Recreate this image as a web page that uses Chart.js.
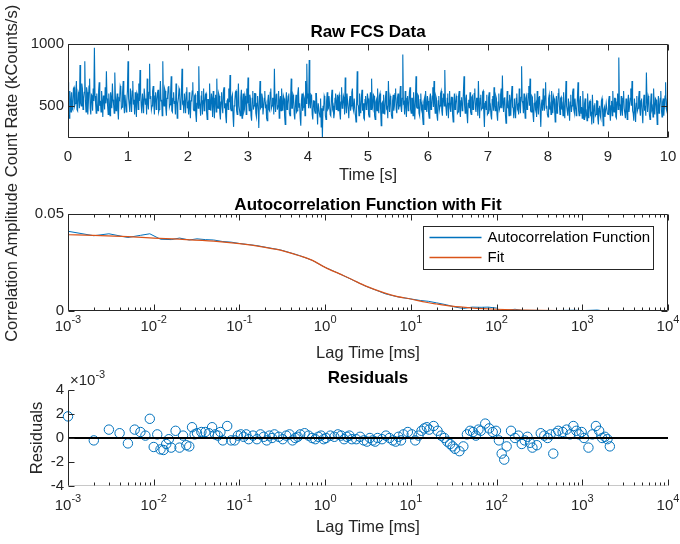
<!DOCTYPE html>
<html>
<head>
<meta charset="utf-8">
<script src="https://cdn.jsdelivr.net/npm/chart.js@4.4.0/dist/chart.umd.min.js"></script>
<style>
  body { margin: 0; background: #fff; }
  #wrap { position: relative; width: 680px; height: 544px; background: #fff; }
  canvas { position: absolute; left: 0; top: 0; }
</style>
</head>
<body>
<div id="wrap">
  <canvas id="rawChart" width="680" height="544"></canvas>
  <canvas id="acfChart" width="680" height="544"></canvas>
  <canvas id="residChart" width="680" height="544"></canvas>
</div>
<script>
// ---- data ----
// raw trace, one value every 10 ms (kCounts/s)
const rawDt = 0.01;
const rawCounts = [
  690,430, 400,620, 560,450, 610,480, 470,640, 650,500, 520,600, 700,470, 460,610, 590,480, 830,520, 500,680, 640,470, 560,610, 860,540, 450,650, 610,430, 530,660, 720,480, 430,590, 580,460, 640,540, 970,580, 520,440, 600,500,
  460,620, 690,500, 540,450, 620,540, 410,580, 580,470, 650,520, 780,560, 500,430, 600,520, 420,610, 560,480, 680,550, 510,440, 770,580, 460,540, 600,470, 390,560, 550,660, 640,480, 490,610, 700,530, 440,590, 590,450, 540,620,
  860,560, 510,450, 640,540, 450,620, 700,510, 550,430, 610,520, 410,600, 580,470, 680,540, 790,600, 500,440, 600,530, 440,640, 640,510, 560,430, 720,520, 470,610, 840,560, 580,470, 500,620, 660,520, 430,580, 610,470, 540,600,
  630,450, 470,570, 700,540, 550,420, 860,560, 500,640, 620,480, 420,560, 580,650, 660,490, 510,600, 740,460, 450,560, 610,520, 540,430, 680,560, 400,520, 560,640, 620,470, 480,600, 800,520, 530,440, 600,530, 440,610, 650,480,
  510,430, 610,480, 400,540, 560,620, 690,470, 460,580, 590,430, 370,520, 620,480, 820,540, 500,420, 580,620, 430,540, 640,460, 520,590, 600,450, 390,550, 550,470, 680,510, 460,600, 560,410, 620,520, 400,560, 590,450, 720,500,
  480,600, 580,440, 390,530, 610,490, 440,620, 650,480, 520,410, 360,540, 560,470, 640,530, 750,480, 460,570, 590,420, 330,500, 540,610, 620,460, 430,540, 680,500, 500,420, 570,630, 400,520, 600,450, 470,580, 550,430, 640,520,
  730,520, 460,590, 560,420, 380,560, 620,470, 500,600, 600,440, 410,520, 580,470, 320,550, 700,480, 490,600, 570,430, 430,560, 620,480, 510,400, 380,540, 590,470, 460,610, 640,480, 500,560, 560,430, 800,520, 450,590, 600,470,
  500,620, 400,540, 580,460, 640,520, 460,580, 560,420, 350,530, 610,470, 510,580, 600,440, 420,560, 720,480, 480,590, 570,430, 390,520, 590,450, 460,600, 650,490, 520,400, 340,540, 600,460, 490,580, 560,420, 700,520, 840,560,
  600,480, 870,520, 480,590, 580,430, 390,540, 540,460, 440,600, 600,470, 350,520, 520,440, 410,560, 330,480, 242,500, 460,580, 560,420, 390,540, 610,470, 480,580, 580,430, 420,560, 630,480, 500,400, 440,560, 600,470, 520,590,
  460,570, 590,440, 390,530, 650,480, 490,580, 560,430, 730,510, 440,600, 600,470, 400,540, 580,460, 500,610, 640,480, 460,560, 560,430, 370,520, 780,510, 500,420, 600,480, 440,570, 630,460, 520,400, 390,550, 580,470, 480,600,
  560,430, 410,540, 610,470, 720,500, 480,590, 580,420, 390,530, 550,460, 640,490, 440,580, 600,470, 340,520, 530,440, 590,470, 430,560, 620,480, 490,400, 700,520, 450,580, 560,430, 400,540, 590,460, 500,600, 640,470, 440,560,
  600,470, 500,580, 660,490, 450,560, 915,520, 530,430, 620,500, 410,560, 580,460, 490,610, 650,470, 440,560, 560,420, 610,500, 390,540, 740,490, 480,590, 580,440, 420,550, 600,480, 510,410, 350,530, 560,470, 620,500, 450,580,
  540,440, 400,560, 600,470, 490,580, 650,490, 700,520, 440,580, 560,420, 380,540, 580,470, 500,600, 620,460, 420,560, 600,500, 790,540, 480,420, 560,600, 400,520, 620,480, 450,570, 570,430, 370,510, 600,470, 510,580, 560,440,
  450,580, 620,470, 410,540, 570,460, 490,610, 740,500, 440,560, 590,430, 360,520, 550,480, 610,450, 430,570, 580,470, 500,600, 640,480, 450,560, 560,420, 700,510, 400,560, 590,470, 480,610, 620,450, 330,520, 540,470, 590,430,
  440,570, 610,480, 500,420, 390,550, 580,460, 650,500, 460,580, 560,430, 380,530, 600,470, 490,590, 640,480, 745,520, 450,560, 570,430, 360,510, 620,480, 510,420, 590,540, 420,580, 660,490, 480,400, 560,470, 400,560, 600,480,
  500,430, 640,510, 440,570, 820,540, 520,440, 600,480, 400,560, 580,470, 480,600, 660,500, 720,460, 450,580, 570,430, 370,520, 600,480, 510,410, 620,500, 430,570, 580,450, 330,510, 550,460, 640,520, 460,580, 690,480, 500,430,
  410,560, 590,470, 500,430, 620,520, 440,580, 560,470, 370,510, 580,440, 480,600, 640,500, 430,560, 570,470, 500,420, 610,480, 400,540, 700,500, 460,420, 560,480, 380,530, 590,450, 500,610, 640,470, 440,560, 560,420, 480,560,
  690,460, 420,540, 580,440, 490,400, 620,480, 390,520, 560,430, 450,380, 600,470, 400,530, 540,430, 440,350, 590,460, 360,500, 520,420, 430,540, 540,400, 350,480, 500,420, 400,540, 560,450, 340,470, 490,410, 410,520, 520,440,
  430,540, 580,450, 380,500, 540,420, 620,490, 450,560, 560,410, 400,530, 600,470, 890,520, 500,420, 580,470, 420,560, 620,480, 480,400, 560,470, 390,530, 590,450, 450,560, 640,500, 700,460, 440,380, 560,470, 370,520, 580,460,
  480,560, 620,470, 420,540, 560,440, 360,520, 590,460, 500,420, 770,540, 450,580, 560,430, 390,520, 600,470, 490,410, 640,500, 430,560, 550,460, 350,500, 580,440, 480,560, 620,470, 410,530, 560,420, 490,580, 690,480, 460,560
];
const rawXTicks = [0, 1, 2, 3, 4, 5, 6, 7, 8, 9, 10];
const rawYTicks = [500, 1000];

// autocorrelation curve (lag in ms)
const acfLag = [0.001, 0.002, 0.003, 0.005, 0.007, 0.009, 0.012, 0.016, 0.02, 0.026, 0.032, 0.04, 0.05, 0.064,
  0.08, 0.1, 0.13, 0.16, 0.2, 0.3, 0.4, 0.5, 0.7, 1, 1.5, 2, 3, 4, 5, 7, 10, 13, 16, 20, 26, 33, 41, 52, 66,
  80, 100, 115, 130, 164, 200, 300, 400, 600, 800, 1000, 1500, 2000];
const acfValue = [0.0411, 0.0388, 0.0398, 0.0379, 0.0390, 0.0398, 0.0370, 0.0368, 0.0376, 0.0366, 0.0372, 0.0368, 0.0366, 0.0358,
  0.0355, 0.0348, 0.0342, 0.0337, 0.0329, 0.0315, 0.0299, 0.0286, 0.0262, 0.0225, 0.0190, 0.0164, 0.0127, 0.0106, 0.0089, 0.0073, 0.0062, 0.0054, 0.0050, 0.0042, 0.0032, 0.0020, 0.0013, 0.0020, 0.0019,
  0.0020, 0.0015, -0.0004, 0.0003, 0.0009, 0.0003, 0.0003, 0.0001, 0.0003, 0.0004, 0.0002, 0.0005, -0.0003];
// fitted curve
const fitLag = [0.001, 0.002, 0.005, 0.01, 0.02, 0.05, 0.1, 0.2, 0.3, 0.5, 0.7, 1, 1.5, 2, 3, 5, 7, 10,
  15, 20, 30, 50, 70, 100, 200, 500, 1000, 2000];
const fitValue = [0.0393, 0.0390, 0.0383, 0.0376, 0.0370, 0.0360, 0.0347, 0.0328, 0.0314, 0.0285, 0.0262, 0.0225, 0.0190, 0.0165, 0.0128, 0.0092, 0.0074, 0.0062,
  0.0045, 0.0036, 0.0025, 0.0016, 0.0012, 0.0009, 0.0005, 0.0002, 0.0001, 0.0000];
const acfYTicks = [0, 0.05];
const logXTicks = [1e-3, 1e-2, 1e-1, 1e0, 1e1, 1e2, 1e3, 1e4];

// residuals: correlator lag channels in microseconds, residual in units of 1e-3
const residLagUs = [
  1, 2, 3, 4, 5, 6, 7, 8, 9, 10, 11, 12, 13, 14, 15, 16,
  18, 20, 22, 24, 26, 28, 30, 32,
  36, 40, 44, 48, 52, 56, 60, 64,
  72, 80, 88, 96, 104, 112, 120, 128,
  144, 160, 176, 192, 208, 224, 240, 256,
  288, 320, 352, 384, 416, 448, 480, 512,
  576, 640, 704, 768, 832, 896, 960, 1024,
  1152, 1280, 1408, 1536, 1664, 1792, 1920, 2048,
  2304, 2560, 2816, 3072, 3328, 3584, 3840, 4096,
  4608, 5120, 5632, 6144, 6656, 7168, 7680, 8192,
  9216, 10240, 11264, 12288, 13312, 14336, 15360, 16384,
  18432, 20480, 22528, 24576, 26624, 28672, 30720, 32768,
  36864, 40960, 45056, 49152, 53248, 57344, 61440, 65536,
  73728, 81920, 90112, 98304, 106496, 114688, 122880, 131072,
  147456, 163840, 180224, 196608, 212992, 229376, 245760, 262144,
  294912, 327680, 360448, 393216, 425984, 458752, 491520, 524288,
  589824, 655360, 720896, 786432, 851968, 917504, 983040, 1048576,
  1179648, 1310720, 1441792, 1572864, 1703936, 1835008, 1966080, 2097152
];
const residValue = [
  1.8, -0.2, 0.7, 0.4, -0.45, 0.7, 0.5, 0.2, 1.6, -0.75, 0.3, -0.95, -1.0, -0.5, -0.1, -0.8,
  0.6, -0.8, 0.2, -0.6, -0.7, 0.9, 0.3, 0.4,
  0.5, 0.5, 0.4, 0.9, 0.3, 0.2, 0.5, -0.2,
  1.0, -0.2, -0.2, 0.2, 0.3, 0.1, 0.3, -0.1,
  0.2, -0.1, 0.3, 0.1, -0.2, 0.2, 0.0, 0.3,
  0.1, -0.1, 0.2, 0.3, -0.2, 0.0, 0.1, 0.3,
  0.4, 0.2, 0.0, -0.1, 0.1, 0.2, -0.1, 0.0,
  0.2, 0.1, 0.3, 0.2, -0.1, 0.1, 0.2, -0.1,
  -0.1, 0.1, -0.2, -0.3, 0.0, -0.2, -0.3, 0.0,
  -0.1, 0.2, 0.0, -0.2, -0.3, 0.1, -0.2, 0.3,
  0.5, 0.3, -0.2, 0.2, 0.6, 0.8, 0.9, 0.7,
  1.0, 0.6, 0.2, 0.0, -0.3, -0.5, -0.7, -0.9,
  -1.1, -0.7, 0.3, 0.6, 0.5, 0.2, 0.7, 0.6,
  1.2, 0.8, 0.5, 0.6, -0.2, -1.3, -1.8, -0.7,
  0.6, 0.0, 0.2, -0.5, -0.2, 0.1, -0.4, -0.8,
  -0.6, 0.4, 0.2, 0.0, 0.3, -1.3, 0.4, 0.6,
  0.5, 0.7, 0.3, 1.0, 0.6, 0.3, 0.5, 0.0,
  -0.8, 0.3, 1.0, 0.6, 0.0, 0.1, -0.1, -0.7
];
const residYTicks = [-4, -2, 0, 2, 4];
const zeroLineX = [1e-3, 1e4];

// ---- style ----
const FONT = '"Liberation Sans", Arial, Helvetica, sans-serif';
const AXIS = "#262626";
const BLUE = "#0072BD";
const ORANGE = "#D95319";
const TICK_SIZE = 15;
const LABEL_SIZE = 16.5;
const TITLE_SIZE = 17;

// draws MATLAB-like box, inward ticks, titles and power-of-ten labels
const matlabAxes = {
  id: "matlabAxes",
  afterDraw(chart, args, o) {
    const { ctx, chartArea: a } = chart;
    const xs = chart.scales.x;
    const ys = chart.scales.y;
    const L = a.left + 0.5, R = a.right - 0.5, T = a.top + 0.5, B = a.bottom - 0.5;
    ctx.save();
    ctx.strokeStyle = AXIS;
    ctx.lineWidth = 1;
    ctx.beginPath();
    ctx.moveTo(L, T);
    ctx.lineTo(L, B);
    if (o.box) {
      ctx.lineTo(R, B);
      ctx.lineTo(R, T);
      ctx.closePath();
    }
    ctx.stroke();
    if (!o.box) {
      ctx.strokeStyle = "#c8c8c8";
      ctx.beginPath();
      ctx.moveTo(L, B);
      ctx.lineTo(R, B);
      ctx.stroke();
      ctx.strokeStyle = AXIS;
    }

    // ticks
    ctx.beginPath();
    xs.ticks.forEach((t) => {
      const px = Math.round(xs.getPixelForValue(t.value)) + 0.5;
      ctx.moveTo(px, B); ctx.lineTo(px, B - 6);
      if (o.box) { ctx.moveTo(px, T); ctx.lineTo(px, T + 6); }
    });
    ys.ticks.forEach((t) => {
      const py = Math.round(ys.getPixelForValue(t.value)) + 0.5;
      ctx.moveTo(L, py); ctx.lineTo(L + 6, py);
      if (o.box) { ctx.moveTo(R, py); ctx.lineTo(R - 6, py); }
    });
    if (o.log) {
      for (let e = -3; e < 4; e++) {
        for (let k = 2; k < 10; k++) {
          const px = Math.round(xs.getPixelForValue(k * Math.pow(10, e))) + 0.5;
          ctx.moveTo(px, B); ctx.lineTo(px, B - 3);
          if (o.box) { ctx.moveTo(px, T); ctx.lineTo(px, T + 3); }
        }
      }
    }
    ctx.stroke();

    ctx.fillStyle = AXIS;
    ctx.textBaseline = "middle";
    if (o.log) {
      xs.ticks.forEach((t) => {
        const px = xs.getPixelForValue(t.value);
        const ex = String(Math.round(Math.log10(t.value)));
        ctx.font = TICK_SIZE + "px " + FONT;
        const w1 = ctx.measureText("10").width;
        ctx.font = "11px " + FONT;
        const w2 = ctx.measureText(ex).width;
        const x0 = px - (w1 + w2) / 2;
        ctx.textAlign = "left";
        ctx.font = TICK_SIZE + "px " + FONT;
        ctx.fillText("10", x0, a.bottom + o.labelGap);
        ctx.font = "11px " + FONT;
        ctx.fillText(ex, x0 + w1, a.bottom + o.labelGap - 7);
      });
    }
    if (o.exponent) {
      ctx.textAlign = "left";
      ctx.font = TICK_SIZE + "px " + FONT;
      ctx.fillText("\u00d710", a.left + 2, a.top - 9);
      const w = ctx.measureText("\u00d710").width;
      ctx.font = "11px " + FONT;
      ctx.fillText(o.exponent, a.left + 2 + w, a.top - 15);
    }
    // subplot title
    ctx.fillStyle = "#000";
    ctx.textAlign = "center";
    ctx.font = "bold " + TITLE_SIZE + "px " + FONT;
    ctx.fillText(o.title, (a.left + a.right) / 2, o.titleY);
    ctx.restore();
  },
};

function tickFont() {
  return { family: FONT, size: TICK_SIZE };
}
function labelFont() {
  return { family: FONT, size: LABEL_SIZE };
}

function yScale(min, max, ticks, label, labelPad) {
  return {
    type: "linear",
    min: min,
    max: max,
    afterBuildTicks: (s) => { s.ticks = ticks.map((v) => ({ value: v })); },
    afterFit: (s) => { s.width = 68; s.paddingTop = 0; s.paddingBottom = 0; },
    grid: { display: false, drawTicks: false },
    border: { display: false },
    ticks: { color: AXIS, font: tickFont(), padding: 4, callback: (v) => String(v) },
    title: { display: true, text: label, color: AXIS, font: labelFont(), padding: { top: labelPad, bottom: 0 } },
  };
}

function logXScale(height, label, padBottom) {
  return {
    type: "logarithmic",
    min: 1e-3,
    max: 1e4,
    afterBuildTicks: (s) => { s.ticks = logXTicks.map((v) => ({ value: v })); },
    afterFit: (s) => { s.height = height; s.paddingLeft = 0; s.paddingRight = 0; },
    grid: { display: false, drawTicks: false },
    border: { display: false },
    ticks: { display: false },
    title: { display: true, text: label, color: AXIS, font: labelFont(), padding: { top: 0, bottom: padBottom } },
  };
}

const common = {
  responsive: false,
  animation: false,
  devicePixelRatio: 1,
  events: [],
};

// ---- Raw FCS Data ----
new Chart(document.getElementById("rawChart"), {
  type: "line",
  data: {
    datasets: [{
      data: rawCounts.map((v, i) => ({ x: i * rawDt, y: v })),
      borderColor: BLUE,
      borderWidth: 1.1,
      pointRadius: 0,
      tension: 0,
    }],
  },
  options: Object.assign({}, common, {
    layout: { padding: { left: 0, right: 12, top: 44, bottom: 354 } },
    plugins: {
      legend: { display: false },
      tooltip: { enabled: false },
      matlabAxes: { box: true, title: "Raw FCS Data", titleY: 32 },
    },
    scales: {
      x: {
        type: "linear",
        min: 0,
        max: 10,
        afterBuildTicks: (s) => { s.ticks = rawXTicks.map((v) => ({ value: v })); },
        afterFit: (s) => { s.height = 52; s.paddingLeft = 0; s.paddingRight = 0; },
        grid: { display: false, drawTicks: false },
        border: { display: false },
        ticks: { color: AXIS, font: tickFont(), padding: 10, maxRotation: 0, callback: (v) => String(v) },
        title: { display: true, text: "Time [s]", color: AXIS, font: labelFont(), padding: { top: 0, bottom: 5 } },
      },
      y: yScale(240, 1000, rawYTicks, "Count Rate (kCounts/s)", 3),
    },
  }),
  plugins: [matlabAxes],
});

// ---- Autocorrelation Function with Fit ----
const legendBox = {
  id: "legendBox",
  afterDraw(chart) {
    const { ctx } = chart;
    const x = 423.5, y = 226.5, w = 230, h = 43;
    ctx.save();
    ctx.fillStyle = "#fff";
    ctx.fillRect(x, y, w, h);
    ctx.strokeStyle = AXIS;
    ctx.lineWidth = 1;
    ctx.strokeRect(x, y, w, h);
    const rows = chart.data.datasets.slice().reverse();
    rows.forEach((ds, i) => {
      const ly = y + 11 + i * 20;
      ctx.strokeStyle = ds.borderColor;
      ctx.lineWidth = 1.3;
      ctx.beginPath();
      ctx.moveTo(x + 6, ly);
      ctx.lineTo(x + 58, ly);
      ctx.stroke();
      ctx.fillStyle = "#000";
      ctx.font = TICK_SIZE + "px " + FONT;
      ctx.textAlign = "left";
      ctx.textBaseline = "middle";
      ctx.fillText(ds.label, x + 64, ly);
    });
    ctx.restore();
  },
};

new Chart(document.getElementById("acfChart"), {
  type: "line",
  data: {
    datasets: [
      {
        label: "Fit",
        data: fitLag.map((v, i) => ({ x: v, y: fitValue[i] })),
        borderColor: ORANGE,
        borderWidth: 1.2,
        pointRadius: 0,
        cubicInterpolationMode: "monotone",
      },
      {
        label: "Autocorrelation Function",
        data: acfLag.map((v, i) => ({ x: v, y: acfValue[i] })),
        borderColor: BLUE,
        borderWidth: 1,
        pointRadius: 0,
        tension: 0,
      },
    ],
  },
  options: Object.assign({}, common, {
    layout: { padding: { left: 0, right: 12, top: 214, bottom: 179 } },
    plugins: {
      legend: { display: false },
      tooltip: { enabled: false },
      matlabAxes: { box: true, log: true, labelGap: 16, title: "Autocorrelation Function with Fit", titleY: 205 },
    },
    scales: {
      x: logXScale(54, "Lag Time [ms]", 2),
      y: yScale(0, 0.05, acfYTicks, "Correlation Amplitude", 3),
    },
  }),
  plugins: [matlabAxes, legendBox],
});

// ---- Residuals ----
new Chart(document.getElementById("residChart"), {
  type: "line",
  data: {
    datasets: [
      {
        data: zeroLineX.map((v) => ({ x: v, y: 0 })),
        borderColor: "#000",
        borderWidth: 2,
        pointRadius: 0,
      },
      {
        data: residLagUs.map((v, i) => ({ x: v / 1000, y: residValue[i] })),
        showLine: false,
        pointStyle: "circle",
        pointRadius: 4.7,
        pointBorderWidth: 1,
        pointBorderColor: BLUE,
        pointBackgroundColor: "rgba(0,0,0,0)",
        clip: false,
      },
    ],
  },
  options: Object.assign({}, common, {
    layout: { padding: { left: 0, right: 12, top: 390, bottom: 0 } },
    plugins: {
      legend: { display: false },
      tooltip: { enabled: false },
      matlabAxes: { box: false, log: true, labelGap: 20, exponent: "-3", title: "Residuals", titleY: 378 },
    },
    scales: {
      x: logXScale(58, "Lag Time [ms]", 7),
      y: yScale(-4, 4, residYTicks, "Residuals", 28),
    },
  }),
  plugins: [matlabAxes],
});
</script>
</body>
</html>
